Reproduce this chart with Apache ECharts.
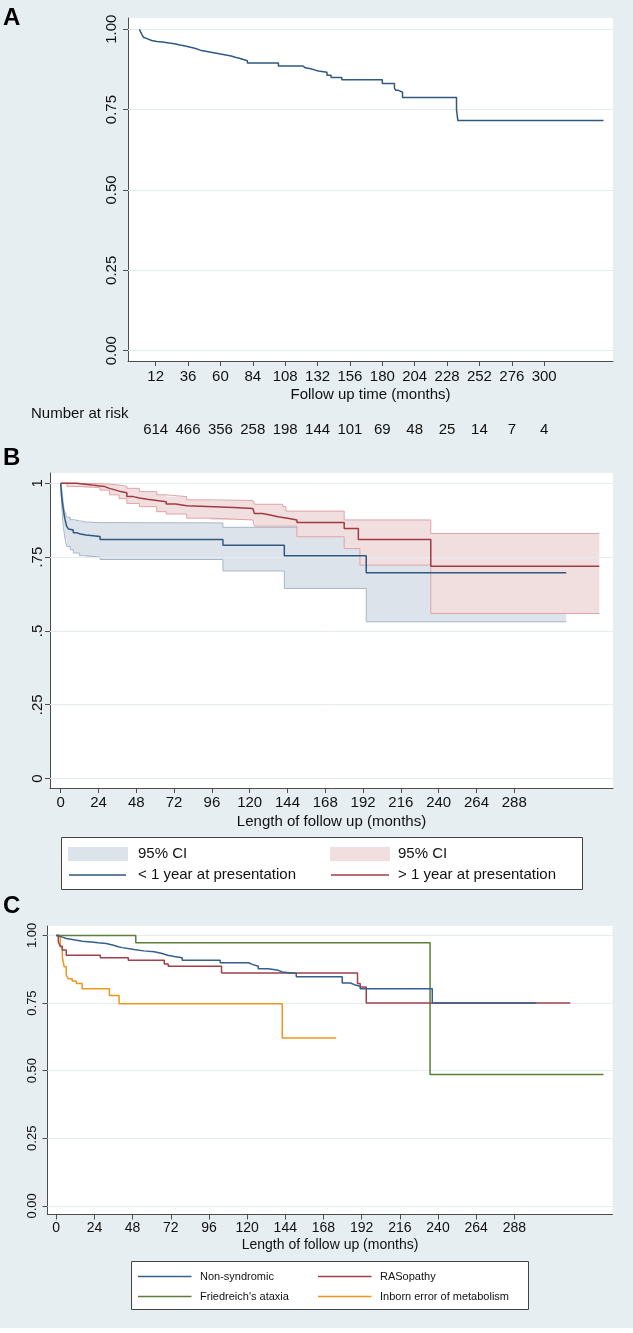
<!DOCTYPE html>
<html>
<head>
<meta charset="utf-8">
<script src="https://cdn.jsdelivr.net/npm/echarts@6/dist/echarts.min.js"></script>
<style>html,body{margin:0;padding:0;background:#fff}#c{width:633px;height:1333px}</style>
</head>
<body>
<div id="c"></div>
<script>
// ---------- Panel A: overall survival ----------
const ticksA = [12, 36, 60, 84, 108, 132, 156, 180, 204, 228, 252, 276, 300];
const riskA = [614, 466, 356, 258, 198, 144, 101, 69, 48, 25, 14, 7, 4];
const yTicks = [0, 0.25, 0.5, 0.75, 1];
const tA = [0, 1, 2, 3, 4, 6, 9, 13, 17, 22, 26, 30, 34, 37, 41, 45, 50, 55, 60, 64, 68, 71, 74, 77, 80, 103, 121, 123, 127, 131, 134, 139, 142, 150, 180, 189, 190, 192, 195, 235, 236, 344];
const sA = [1.0, 0.99, 0.982, 0.975, 0.970, 0.965, 0.962, 0.960, 0.957, 0.955, 0.951, 0.948, 0.945, 0.941, 0.935, 0.931, 0.927, 0.923, 0.920, 0.917, 0.913, 0.910, 0.906, 0.902, 0.895, 0.886, 0.880, 0.877, 0.872, 0.869, 0.866, 0.857, 0.850, 0.843, 0.831, 0.817, 0.810, 0.804, 0.788, 0.75, 0.716, 0.716];

// ---------- Panel B: age at presentation ----------
const ticksBC = [0, 24, 48, 72, 96, 120, 144, 168, 192, 216, 240, 264, 288];
const tLt1 = [0, 0.6, 1.2, 1.7, 2.3, 2.8, 3.8, 5, 6, 8, 10, 12, 16, 25, 103, 142, 194, 321];
const sLt1 = [1.0, 0.955, 0.93, 0.91, 0.89, 0.876, 0.854, 0.845, 0.842, 0.833, 0.829, 0.825, 0.82, 0.81, 0.79, 0.755, 0.697, 0.697];
const tLt1CI = [0, 0.6, 1.2, 1.7, 2.3, 2.8, 3.8, 6, 8, 12, 16, 25, 103, 142, 194, 321];
const hiLt1 = [1.0, 0.98, 0.955, 0.925, 0.91, 0.90, 0.885, 0.877, 0.873, 0.869, 0.867, 0.866, 0.851, 0.851, 0.80, 0.80];
const loLt1 = [1.0, 0.93, 0.88, 0.85, 0.83, 0.81, 0.786, 0.775, 0.764, 0.755, 0.75, 0.742, 0.703, 0.644, 0.531, 0.531];
const tGt1 = [0, 10, 14, 20, 25, 28, 31, 35, 38, 42, 46, 50, 55, 61, 67, 73, 80, 110, 122, 123, 128, 133, 138, 145, 150, 180, 189, 235, 342];
const sGt1 = [1.0, 0.998, 0.994, 0.991, 0.989, 0.983, 0.977, 0.972, 0.968, 0.955, 0.95, 0.946, 0.942, 0.938, 0.930, 0.924, 0.918, 0.915, 0.91, 0.898, 0.893, 0.887, 0.881, 0.876, 0.867, 0.847, 0.81, 0.719, 0.719];
const tGt1CI = [0, 4, 14, 25, 31, 37, 42, 50, 61, 67, 80, 95, 122, 123, 141, 143, 150, 180, 190, 235, 342];
const hiGt1 = [1.0, 1.0, 0.999, 0.997, 0.994, 0.99, 0.983, 0.972, 0.961, 0.955, 0.944, 0.942, 0.940, 0.929, 0.921, 0.906, 0.906, 0.876, 0.876, 0.83, 0.83];
const loGt1 = [1.0, 0.989, 0.985, 0.977, 0.961, 0.948, 0.932, 0.921, 0.904, 0.896, 0.882, 0.876, 0.872, 0.855, 0.855, 0.855, 0.819, 0.779, 0.723, 0.559, 0.559];

// ---------- Panel C: aetiology ----------
const tNS = [0, 1.3, 3.8, 6.3, 12, 16.3, 22, 26.4, 31.4, 36, 39, 41.5, 49, 55, 61.6, 66.6, 70, 74.2, 79.2, 103.1, 121, 123.2, 127, 133.3, 139.6, 142.1, 150.9, 179.8, 185, 187.4, 191.1, 236.4, 301.8];
const sNS = [1.0, 0.994, 0.989, 0.983, 0.979, 0.976, 0.973, 0.970, 0.964, 0.958, 0.955, 0.948, 0.943, 0.940, 0.933, 0.927, 0.922, 0.918, 0.908, 0.899, 0.893, 0.886, 0.877, 0.871, 0.865, 0.859, 0.847, 0.824, 0.818, 0.812, 0.803, 0.75, 0.75];
const tRAS = [0, 1.3, 2.5, 3.8, 6.3, 27.7, 45.3, 67.9, 70.4, 103.9, 189.4, 191.1, 194.9, 323.2];
const sRAS = [1.0, 0.976, 0.96, 0.946, 0.927, 0.918, 0.908, 0.894, 0.886, 0.861, 0.822, 0.809, 0.75, 0.75];
const tFA = [0, 50, 235, 344];
const sFA = [1.0, 0.973, 0.486, 0.486];
const tIEM = [0, 2.5, 3.8, 5, 6.3, 7.5, 10, 12.6, 16.3, 33.4, 39.5, 142.1, 176];
const sIEM = [1.0, 0.958, 0.921, 0.884, 0.853, 0.840, 0.832, 0.822, 0.803, 0.778, 0.747, 0.621, 0.621];

const FONT = 'Liberation Sans';
const BG = '#e6eef1';
const GRIDLINE = '#e4ecef';
const AXIS = '#4d4d4d';
const C_BLUE = '#2f5882', C_RED = '#a23a42';
const BAND_BLUE = '#dde3eb', BAND_RED = '#f1dfe0';
const EDGE_BLUE = '#a7b6c7', EDGE_RED = '#dea4a8';
const C_NS = '#355f8c', C_RAS = '#a0404a', C_FA = '#5e7c38', C_IEM = '#f0961e';

function pairs(t, s) { return t.map((v, i) => [v, s[i]]); }

function stepLine(name, t, s, color, xi, yi, width, z) {
  return { type: 'line', name, xAxisIndex: xi, yAxisIndex: yi, data: pairs(t, s), step: 'end',
    showSymbol: false, symbol: 'none', lineStyle: { color, width: width || 1.5 }, z: z || 6, silent: true };
}

function band(t, lo, hi, fill, xi, yi, z) {
  return {
    type: 'custom', xAxisIndex: xi, yAxisIndex: yi, data: [[0, 1]], z: z, silent: true,
    renderItem: function (params, api) {
      const pts = [];
      const n = t.length;
      for (let i = 0; i < n - 1; i++) {
        pts.push(api.coord([t[i], hi[i]]));
        pts.push(api.coord([t[i + 1], hi[i]]));
      }
      pts.push(api.coord([t[n - 1], hi[n - 1]]));
      pts.push(api.coord([t[n - 1], lo[n - 1]]));
      for (let i = n - 2; i >= 0; i--) {
        pts.push(api.coord([t[i + 1], lo[i]]));
        pts.push(api.coord([t[i], lo[i]]));
      }
      return { type: 'polygon', shape: { points: pts }, style: { fill: fill, stroke: null } };
    }
  };
}

function gridLines(xi, yi) {
  return { type: 'line', xAxisIndex: xi, yAxisIndex: yi, data: [], z: 1, silent: true,
    markLine: { silent: true, symbol: 'none', animation: false, label: { show: false },
      lineStyle: { color: GRIDLINE, width: 1, type: 'solid' },
      data: yTicks.map(v => ({ yAxis: v })) } };
}

function xAxisDef(gi, min, max, ticks, fs, margin, name, nameGap) {
  return { type: 'value', gridIndex: gi, min, max, position: 'bottom',
    axisLine: { show: true, onZero: false, lineStyle: { color: AXIS, width: 1 } },
    axisTick: { show: true, length: 5, customValues: ticks, lineStyle: { color: AXIS } },
    axisLabel: { customValues: ticks, fontFamily: FONT, fontSize: fs, color: '#111', margin, formatter: v => String(Math.round(v)) },
    splitLine: { show: false },
    name, nameLocation: 'middle', nameGap, nameTextStyle: { fontFamily: FONT, fontSize: fs, color: '#111' } };
}

function yAxisDef(gi, fmt, fs, margin) {
  return { type: 'value', gridIndex: gi, min: -0.032, max: 1.035,
    axisLine: { show: true, onZero: false, lineStyle: { color: AXIS, width: 1 } },
    axisTick: { show: true, length: 5, customValues: yTicks, lineStyle: { color: AXIS } },
    axisLabel: { customValues: yTicks, rotate: 90, fontFamily: FONT, fontSize: fs, color: '#111', margin, formatter: fmt },
    splitLine: { show: false } };
}

const fmt2 = v => v.toFixed(2);
const fmtB = v => { const r = Math.round(v * 100) / 100; if (r === 0) return '0'; if (r === 1) return '1'; return String(r).replace(/^0/, ''); };

const option = {
  backgroundColor: BG,
  animation: false,
  grid: [
    { left: 128, top: 18, width: 485, height: 343, show: true, backgroundColor: '#fff', borderWidth: 0 },
    { left: 50, top: 473, width: 563, height: 315, show: true, backgroundColor: '#fff', borderWidth: 0 },
    { left: 47.5, top: 926, width: 565, height: 288.5, show: true, backgroundColor: '#fff', borderWidth: 0 }
  ],
  xAxis: [
    xAxisDef(0, -8.5, 351, ticksA, 15, 8, 'Follow up time (months)', 26),
    { type: 'value', gridIndex: 0, min: -8.5, max: 351, position: 'bottom', offset: 61,
      axisLine: { show: false }, axisTick: { show: false }, splitLine: { show: false },
      axisLabel: { customValues: ticksA, fontFamily: FONT, fontSize: 15, color: '#111', margin: 0,
        formatter: v => { const i = ticksA.indexOf(Math.round(v)); return i >= 0 ? String(riskA[i]) : ''; } } },
    xAxisDef(1, -6.8, 350.7, ticksBC, 15, 7, 'Length of follow up (months)', 26),
    xAxisDef(2, -5.5, 349.7, ticksBC, 14, 7, 'Length of follow up (months)', 24)
  ],
  yAxis: [
    yAxisDef(0, fmt2, 15, 9),
    yAxisDef(1, fmtB, 15, 5),
    yAxisDef(2, fmt2, 13, 9)
  ],
  series: [
    gridLines(0, 0),
    stepLine('All', tA, sA, C_BLUE, 0, 0, 1.5),
    gridLines(2, 1),
    band(tLt1CI, loLt1, hiLt1, BAND_BLUE, 2, 1, 2),
    stepLine('lt1hi', tLt1CI, hiLt1, EDGE_BLUE, 2, 1, 1, 3),
    stepLine('lt1lo', tLt1CI, loLt1, EDGE_BLUE, 2, 1, 1, 3),
    band(tGt1CI, loGt1, hiGt1, BAND_RED, 2, 1, 4),
    stepLine('gt1hi', tGt1CI, hiGt1, EDGE_RED, 2, 1, 1, 5),
    stepLine('gt1lo', tGt1CI, loGt1, EDGE_RED, 2, 1, 1, 5),
    stepLine('< 1 year at presentation', tLt1, sLt1, C_BLUE, 2, 1, 1.5, 6),
    stepLine('> 1 year at presentation', tGt1, sGt1, C_RED, 2, 1, 1.5, 6),
    gridLines(3, 2),
    stepLine('Friedreich\'s ataxia', tFA, sFA, C_FA, 3, 2, 1.5, 6),
    stepLine('Inborn error of metabolism', tIEM, sIEM, C_IEM, 3, 2, 1.5, 6),
    stepLine('RASopathy', tRAS, sRAS, C_RAS, 3, 2, 1.5, 6),
    stepLine('Non-syndromic', tNS, sNS, C_NS, 3, 2, 1.5, 7)
  ],
  graphic: [
    { type: 'rect', shape: { x: 0, y: 1328, width: 633, height: 5 }, style: { fill: '#fff' }, silent: true },
    { type: 'text', x: 3, y: 6, style: { text: 'A', font: 'bold 24px "Liberation Sans"', fill: '#000' } },
    { type: 'text', x: 3, y: 446, style: { text: 'B', font: 'bold 24px "Liberation Sans"', fill: '#000' } },
    { type: 'text', x: 3, y: 894, style: { text: 'C', font: 'bold 24px "Liberation Sans"', fill: '#000' } },
    { type: 'text', x: 31, y: 414, style: { text: 'Number at risk', font: '15px "Liberation Sans"', fill: '#111', verticalAlign: 'middle' } },
    // legend B
    { type: 'rect', shape: { x: 61.5, y: 837.5, width: 521, height: 52 }, style: { fill: '#fff', stroke: '#444', lineWidth: 1 } },
    { type: 'rect', shape: { x: 68, y: 847, width: 60, height: 14 }, style: { fill: BAND_BLUE } },
    { type: 'rect', shape: { x: 330, y: 847, width: 60, height: 14 }, style: { fill: BAND_RED } },
    { type: 'text', x: 138, y: 854, style: { text: '95% CI', font: '15px "Liberation Sans"', fill: '#111', verticalAlign: 'middle' } },
    { type: 'text', x: 398, y: 854, style: { text: '95% CI', font: '15px "Liberation Sans"', fill: '#111', verticalAlign: 'middle' } },
    { type: 'line', shape: { x1: 69, y1: 875, x2: 126, y2: 875 }, style: { stroke: C_BLUE, lineWidth: 1.5 } },
    { type: 'line', shape: { x1: 331, y1: 875, x2: 389, y2: 875 }, style: { stroke: C_RED, lineWidth: 1.5 } },
    { type: 'text', x: 138, y: 875, style: { text: '< 1 year at presentation', font: '15px "Liberation Sans"', fill: '#111', verticalAlign: 'middle' } },
    { type: 'text', x: 398, y: 875, style: { text: '> 1 year at presentation', font: '15px "Liberation Sans"', fill: '#111', verticalAlign: 'middle' } },
    // legend C
    { type: 'rect', shape: { x: 131.5, y: 1261.5, width: 397, height: 48 }, style: { fill: '#fff', stroke: '#444', lineWidth: 1 } },
    { type: 'line', shape: { x1: 138, y1: 1276.5, x2: 191.5, y2: 1276.5 }, style: { stroke: C_NS, lineWidth: 1.5 } },
    { type: 'line', shape: { x1: 318, y1: 1276.5, x2: 371.5, y2: 1276.5 }, style: { stroke: C_RAS, lineWidth: 1.5 } },
    { type: 'line', shape: { x1: 138, y1: 1296.5, x2: 191.5, y2: 1296.5 }, style: { stroke: C_FA, lineWidth: 1.5 } },
    { type: 'line', shape: { x1: 318, y1: 1296.5, x2: 371.5, y2: 1296.5 }, style: { stroke: C_IEM, lineWidth: 1.5 } },
    { type: 'text', x: 200, y: 1276.5, style: { text: 'Non-syndromic', font: '11px "Liberation Sans"', fill: '#111', verticalAlign: 'middle' } },
    { type: 'text', x: 380, y: 1276.5, style: { text: 'RASopathy', font: '11px "Liberation Sans"', fill: '#111', verticalAlign: 'middle' } },
    { type: 'text', x: 200, y: 1296.5, style: { text: 'Friedreich\'s ataxia', font: '11px "Liberation Sans"', fill: '#111', verticalAlign: 'middle' } },
    { type: 'text', x: 380, y: 1296.5, style: { text: 'Inborn error of metabolism', font: '11px "Liberation Sans"', fill: '#111', verticalAlign: 'middle' } }
  ]
};

const chart = echarts.init(document.getElementById('c'), null, { renderer: 'canvas' });
chart.setOption(option);
</script>
</body>
</html>
